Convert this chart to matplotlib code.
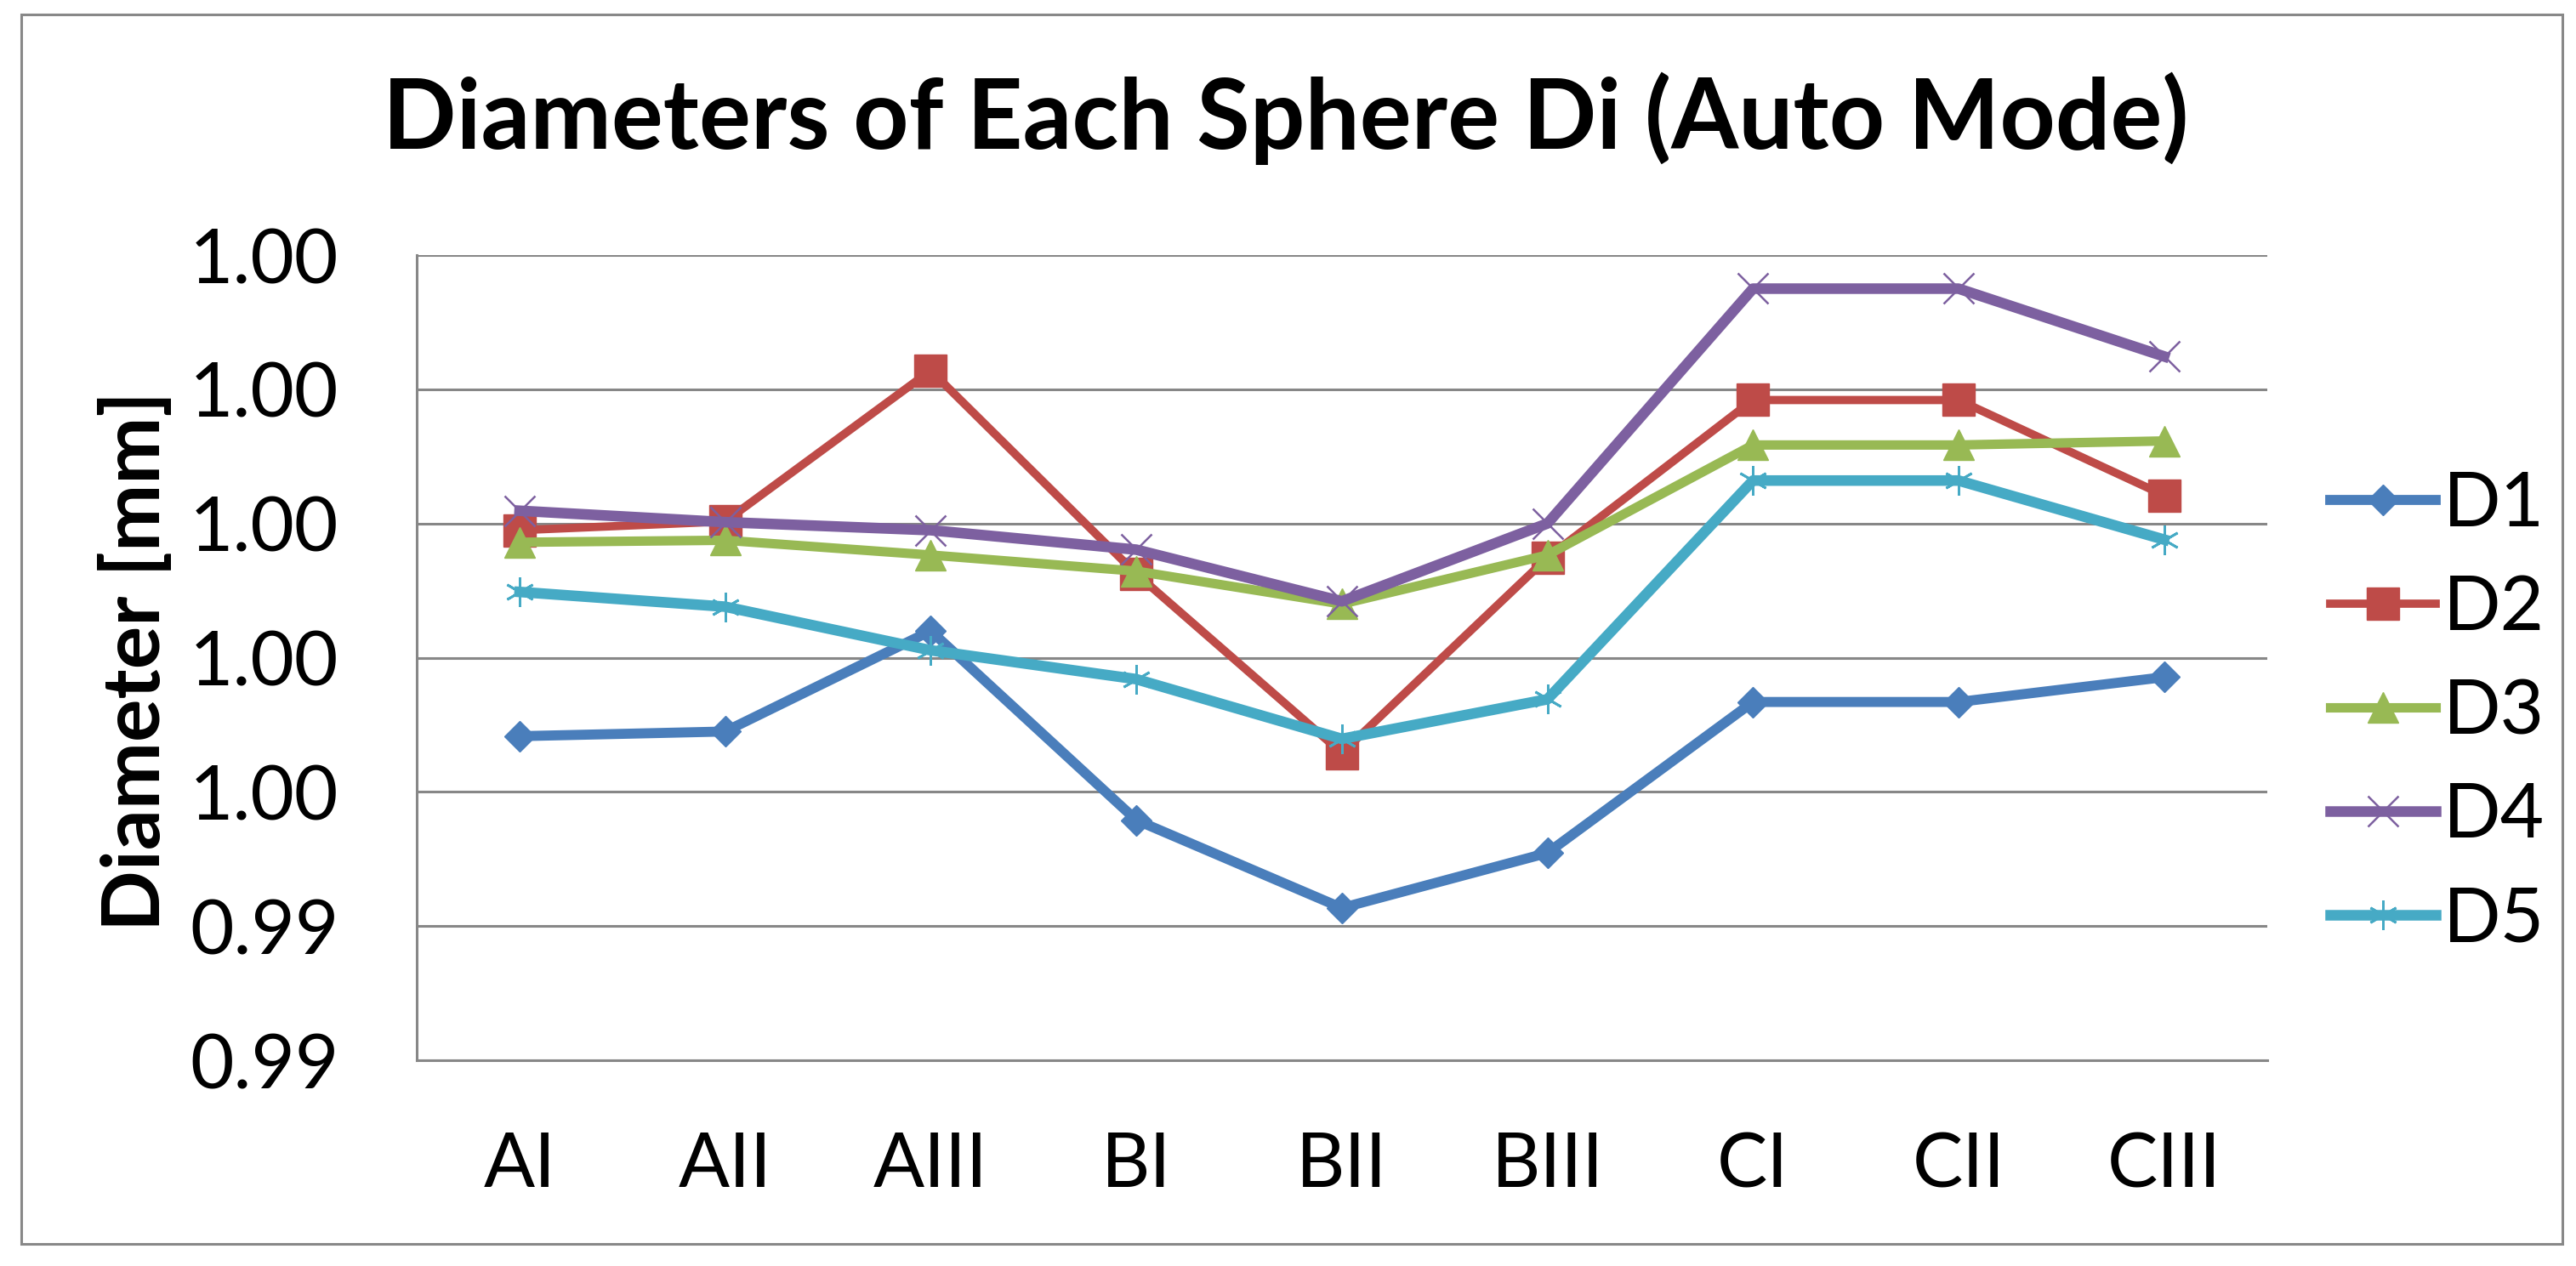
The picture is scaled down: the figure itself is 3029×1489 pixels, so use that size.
import matplotlib
import matplotlib.pyplot as plt
from matplotlib.patches import Rectangle

matplotlib.use('Agg')
plt.rcParams['font.family'] = ['Lato', 'DejaVu Sans']

# samples along the x axis
samples = ['AI', 'AII', 'AIII', 'BI', 'BII', 'BIII', 'CI', 'CII', 'CIII']

# diameters, mm
d1 = [0.99683, 0.99690, 0.99840, 0.99558, 0.99427, 0.99509, 0.99734, 0.99734, 0.99771]
d2 = [0.99990, 1.00003, 1.00228, 0.99925, 0.99658, 0.99949, 1.00184, 1.00184, 1.00042]
d3 = [0.99972, 0.99975, 0.99953, 0.99929, 0.99880, 0.99953, 1.00117, 1.00117, 1.00123]
d4 = [1.00019, 1.00002, 0.99990, 0.99961, 0.99884, 1.00000, 1.00350, 1.00350, 1.00249]
d5 = [0.99898, 0.99876, 0.99811, 0.99768, 0.99679, 0.99738, 1.00064, 1.00064, 0.99976]

series = [('D1', d1), ('D2', d2), ('D3', d3), ('D4', d4), ('D5', d5)]
y_ticks = [0.992, 0.994, 0.996, 0.998, 1.000, 1.002, 1.004]

styles = {
    'D1': dict(color='#4A7EBB', linewidth=8.5, marker='D', markersize=18),
    'D2': dict(color='#BE4B48', linewidth=7, marker='s', markersize=27),
    'D3': dict(color='#98B954', linewidth=8, marker='^', markersize=26),
    'D4': dict(color='#7D60A0', linewidth=9, marker='x', markersize=26, markeredgewidth=1.8),
    'D5': dict(color='#46AAC5', linewidth=9, marker=(6, 2, 0), markersize=25, markeredgewidth=2),
}

fig = plt.figure(figsize=(30.29, 14.89), dpi=100)
ax = fig.add_axes([0.1618, 0.1625, 0.880 - 0.1618, 0.7985 - 0.1625])

x = list(range(len(samples)))
for name, vals in series:
    ax.plot(x, vals, label=name, **styles[name])

ax.set_xlim(-0.5, len(samples) - 0.5)
ax.set_ylim(0.992, 1.004)
ax.set_yticks(y_ticks)
ax.set_yticklabels(['%.2f' % v for v in y_ticks])
ax.set_xticks(x)
ax.set_xticklabels(samples)
ax.tick_params(axis='both', length=0, labelsize=64)
ax.tick_params(axis='y', pad=66)
ax.tick_params(axis='x', pad=60)

ax.grid(axis='y', color='#878787', linewidth=2.2)
ax.set_axisbelow(True)
for side in ['top', 'right']:
    ax.spines[side].set_visible(False)
for side in ['left', 'bottom']:
    ax.spines[side].set_color('#878787')
    ax.spines[side].set_linewidth(2.2)

fig.text(0.499, 0.8825, 'Diameters of Each Sphere Di (Auto Mode)',
         ha='center', va='baseline', fontsize=82, fontweight='bold')
fig.text(0.053, 0.478, 'Diameter [mm]', rotation=90, ha='center', va='center',
         fontsize=68, fontweight='bold')

ax.legend(loc='center left', bbox_to_anchor=(0.9046, 0.437), bbox_transform=fig.transFigure,
          frameon=False, fontsize=64, borderpad=0, borderaxespad=0,
          handlelength=1.4, handletextpad=0.1, labelspacing=0.45)

# outer chart border
fig.patches.append(Rectangle((25 / 3029, 1 - 1463 / 1489), (3013 - 25) / 3029, (1463 - 17) / 1489,
                             transform=fig.transFigure, fill=False, edgecolor='#888888', linewidth=2.2))

fig.savefig('out.png', dpi=100)
plt.close()
